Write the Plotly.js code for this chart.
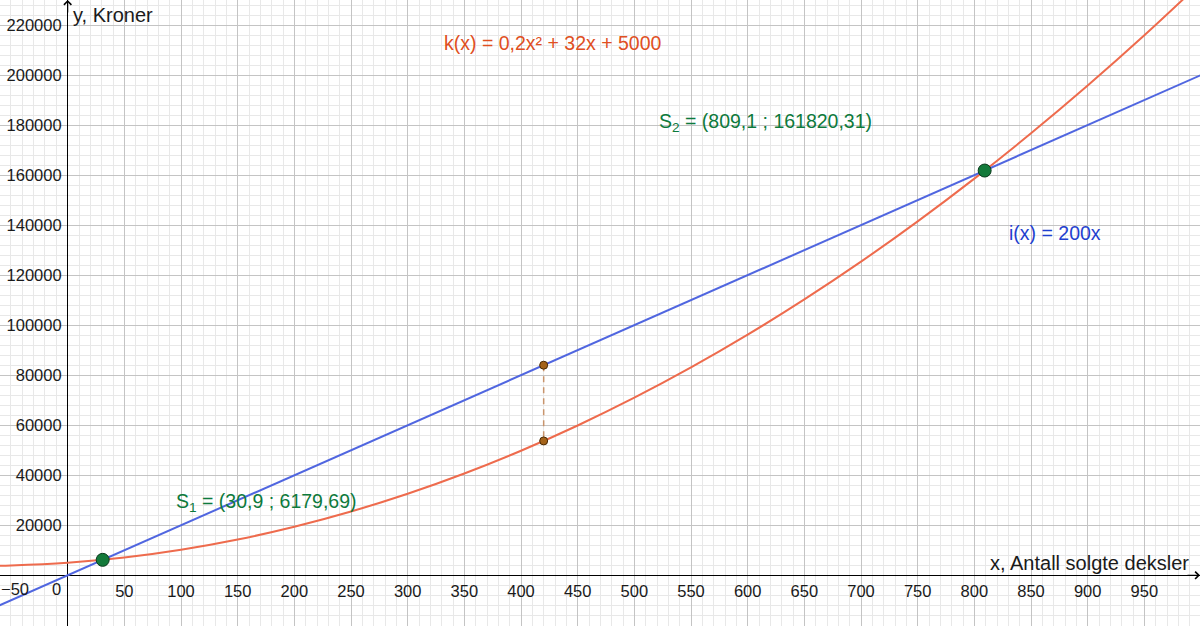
<!DOCTYPE html>
<html>
<head>
<meta charset="utf-8">
<script src="https://cdn.plot.ly/plotly-3.0.1.min.js"></script>
<style>
  html, body { margin: 0; padding: 0; background: #fff; }
  #chart { width: 1200px; height: 626px; }
</style>
</head>
<body>
<div id="chart"></div>
<script>
// values
var lineX = [-60, 1000];
var lineY = [-12000, 200000];

var curveX = [-60, -50, 0, 50, 100, 150, 200, 250, 300, 350, 400, 450, 500,
              550, 600, 650, 700, 750, 800, 850, 900, 950, 1000];
var curveY = [3800, 3900, 5000, 7100, 10200, 14300, 19400, 25500, 32600, 40700,
              49800, 59900, 71000, 83100, 96200, 110300, 125400, 141500, 158600,
              176700, 195800, 215900, 237000];

var crossX = [30.9, 809.1];
var crossY = [6179.69, 161820.31];

var gapX = [420, 420];
var gapY = [84000, 53720];

var xTicks = [50, 100, 150, 200, 250, 300, 350, 400, 450, 500, 550, 600,
              650, 700, 750, 800, 850, 900, 950];
var yTicks = [20000, 40000, 60000, 80000, 100000, 120000, 140000, 160000,
              180000, 200000, 220000];

var xRange = [-59.7, 999.1];
var yRange = [-20270, 230000];

var font = 'Liberation Sans, Arial, Helvetica, sans-serif';
var green = '#0d7a3c';
var tickSize = 16.5;
var textSize = 19.5;

var traces = [
  {
    x: curveX, y: curveY, mode: 'lines', type: 'scatter',
    line: {color: '#ee6b4d', width: 2, shape: 'spline', smoothing: 1},
    hoverinfo: 'skip'
  },
  {
    x: lineX, y: lineY, mode: 'lines', type: 'scatter',
    line: {color: '#5066e0', width: 2},
    hoverinfo: 'skip'
  },
  {
    x: gapX, y: gapY, mode: 'lines', type: 'scatter',
    line: {color: '#c8946c', width: 1.5, dash: '6px,5px'},
    hoverinfo: 'skip'
  },
  {
    x: gapX, y: gapY, mode: 'markers', type: 'scatter',
    marker: {color: '#a4631a', size: 8, line: {color: '#4a2a05', width: 1}},
    hoverinfo: 'skip'
  },
  {
    x: crossX, y: crossY, mode: 'markers', type: 'scatter',
    marker: {color: '#137a3a', size: 13, line: {color: '#0a3a1c', width: 1}},
    hoverinfo: 'skip'
  }
];

var layout = {
  width: 1200,
  height: 626,
  margin: {l: 0, r: 0, t: 0, b: 0},
  paper_bgcolor: '#ffffff',
  plot_bgcolor: '#ffffff',
  showlegend: false,
  font: {family: font, size: tickSize, color: '#1a1a1a'},
  xaxis: {
    range: xRange,
    anchor: 'free',
    position: (0 - yRange[0]) / (yRange[1] - yRange[0]),
    tickvals: xTicks,
    ticktext: xTicks.map(String),
    ticks: '',
    ticklabeloverflow: 'allow',
    ticklabelstandoff: 4,
    showline: false,
    showgrid: true,
    gridcolor: '#c4c4c4',
    gridwidth: 1,
    zeroline: true,
    zerolinecolor: '#000000',
    zerolinewidth: 1.3,
    minor: {dtick: 10, showgrid: true, gridcolor: '#e8e8e8', gridwidth: 1},
    tickfont: {family: font, size: tickSize, color: '#1a1a1a'},
    fixedrange: true
  },
  yaxis: {
    range: yRange,
    anchor: 'free',
    position: (0 - xRange[0]) / (xRange[1] - xRange[0]),
    tickvals: yTicks,
    ticktext: yTicks.map(String),
    ticks: '',
    ticklabeloverflow: 'allow',
    ticklabelstandoff: 6,
    showline: false,
    showgrid: true,
    gridcolor: '#c4c4c4',
    gridwidth: 1,
    zeroline: true,
    zerolinecolor: '#000000',
    zerolinewidth: 1.3,
    minor: {dtick: 4000, showgrid: true, gridcolor: '#e8e8e8', gridwidth: 1},
    tickfont: {family: font, size: tickSize, color: '#1a1a1a'},
    fixedrange: true
  },
  annotations: [
    {x: 0, y: 0, xref: 'x', yref: 'y', text: '0', showarrow: false,
     xshift: -11, yshift: -14, font: {family: font, size: tickSize, color: '#1a1a1a'}},
    // -50 sits at the left edge, so anchor it left to keep it inside the frame
    {x: xRange[0], y: 0, xref: 'x', yref: 'y', text: '\u221250', showarrow: false,
     xanchor: 'left', xshift: -1, yshift: -14,
     font: {family: font, size: tickSize, color: '#1a1a1a'}},
    {x: 0, y: yRange[1], xref: 'x', yref: 'y', text: 'y, Kroner', showarrow: false,
     xanchor: 'left', yanchor: 'middle', xshift: 3, yshift: -15,
     font: {family: font, size: 20, color: '#1a1a1a'}},
    {x: xRange[1], y: 0, xref: 'x', yref: 'y', text: 'x, Antall solgte deksler',
     showarrow: false, xanchor: 'right', yanchor: 'middle', xshift: -9, yshift: 12,
     font: {family: font, size: 20, color: '#1a1a1a'}},
    {x: 0, y: yRange[1], xref: 'x', yref: 'y', ax: 0, ay: 14, text: '',
     showarrow: true, arrowhead: 4, arrowsize: 1.2, arrowwidth: 1.2, arrowcolor: '#000'},
    {x: xRange[1], y: 0, xref: 'x', yref: 'y', ax: -14, ay: 0, text: '',
     showarrow: true, arrowhead: 4, arrowsize: 1.2, arrowwidth: 1.2, arrowcolor: '#000'},
    {x: 330, y: 213000, xref: 'x', yref: 'y', xanchor: 'left', yanchor: 'middle',
     text: 'k(x) = 0,2x\u00b2 + 32x + 5000', showarrow: false,
     font: {family: font, size: textSize, color: '#e04f22'}},
    {x: 520, y: 181000, xref: 'x', yref: 'y', xanchor: 'left', yanchor: 'middle',
     text: 'S<sub>2</sub> = (809,1 ; 161820,31)', showarrow: false,
     font: {family: font, size: textSize, color: green}},
    {x: 829, y: 137000, xref: 'x', yref: 'y', xanchor: 'left', yanchor: 'middle',
     text: 'i(x) = 200x', showarrow: false,
     font: {family: font, size: textSize, color: '#1f3fcf'}},
    {x: 94, y: 29000, xref: 'x', yref: 'y', xanchor: 'left', yanchor: 'middle',
     text: 'S<sub>1</sub> = (30,9 ; 6179,69)', showarrow: false,
     font: {family: font, size: textSize, color: green}}
  ]
};

Plotly.newPlot('chart', traces, layout, {displayModeBar: false, staticPlot: true});
</script>
</body>
</html>
